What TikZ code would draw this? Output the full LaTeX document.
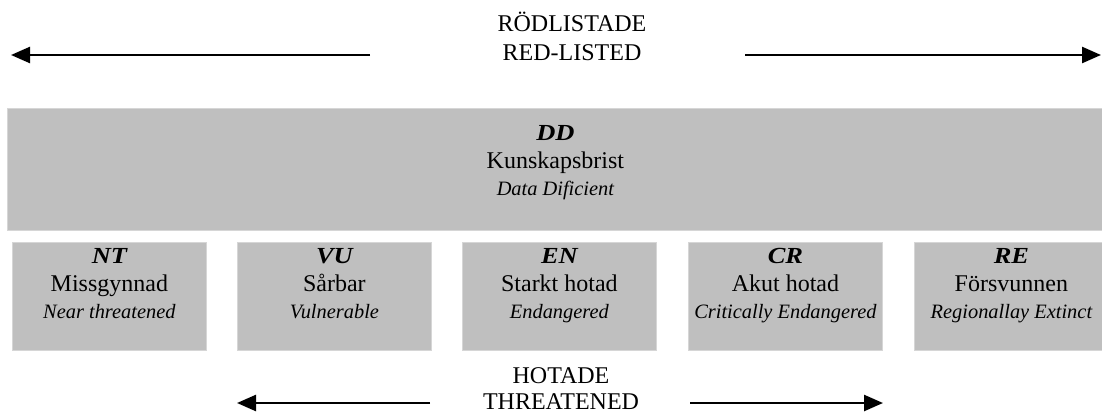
\documentclass[tikz,border=0pt]{standalone}
\usepackage{fontspec}
\setmainfont{Liberation Serif}
\newfontfamily\bifont{Liberation Serif}[FakeStretch=1.15]
\usetikzlibrary{arrows.meta}
\definecolor{boxgray}{HTML}{BFBFBF}
\definecolor{boxedge}{HTML}{D6D6D6}
\tikzset{
  catbox/.style={draw=boxedge, line width=0.8pt, fill=boxgray, minimum width=194pt, minimum height=108pt, inner sep=0pt, anchor=north west},
  bigbox/.style={draw=boxedge, line width=0.8pt, fill=boxgray, minimum width=1096pt, minimum height=122pt, inner sep=0pt, anchor=north west},
  rmtxt/.style={anchor=base, inner sep=0pt, font=\fontsize{24}{28}\selectfont},
  ittxt/.style={anchor=base, inner sep=0pt, font=\fontsize{20.4}{28}\selectfont\itshape},
  bitxt/.style={anchor=base, inner sep=0pt, font=\fontsize{23}{28}\selectfont\bifont\bfseries\itshape},
  bigarrow/.style={-{Triangle[length=19pt, width=16pt]}, line width=2.5pt, black},
}
\begin{document}
\begin{tikzpicture}[x=1pt, y=-1pt]
\useasboundingbox (0,0) rectangle (1102,412);
% top heading
\node[rmtxt] (red1) at (572,32) {RÖDLISTADE};
\node[rmtxt] (red2) at (572,60) {RED-LISTED};
\coordinate (tl) at (370,55);
\coordinate (tlend) at (11,55);
\coordinate (tr) at (745,55);
\coordinate (trend) at (1101,55);
\draw[bigarrow] (tl) -- (tlend);
\draw[bigarrow] (tr) -- (trend);
% DD box
\node[bigbox] (dd) at (7,108) {};
\node[bitxt] (dd1) at ([yshift=-32pt]dd.north) {DD};
\node[rmtxt] (dd2) at ([yshift=-60pt]dd.north) {Kunskapsbrist};
\node[ittxt] (dd3) at ([yshift=-87pt]dd.north) {Data Dificient};
% category boxes
\foreach \n/\x/\a/\b/\c in {
  nt/12/NT/Missgynnad/Near threatened,
  vu/237/VU/Sårbar/Vulnerable,
  en/462/EN/Starkt hotad/Endangered,
  cr/688/CR/Akut hotad/Critically Endangered,
  re/914/RE/Försvunnen/Regionallay Extinct}{
  \node[catbox] (\n) at (\x,242) {};
  \node[bitxt] (\n-1) at ([yshift=-21pt]\n.north) {\a};
  \node[rmtxt] (\n-2) at ([yshift=-49pt]\n.north) {\b};
  \node[ittxt] (\n-3) at ([yshift=-76pt]\n.north) {\c};
}
% bottom heading
\node[rmtxt] (thr1) at (561,383) {HOTADE};
\node[rmtxt] (thr2) at (561,409) {THREATENED};
\coordinate (bl) at (430,403);
\coordinate (blend) at (237,403);
\coordinate (br) at (690,403);
\coordinate (brend) at (883,403);
\draw[bigarrow] (bl) -- (blend);
\draw[bigarrow] (br) -- (brend);
\end{tikzpicture}
\end{document}
